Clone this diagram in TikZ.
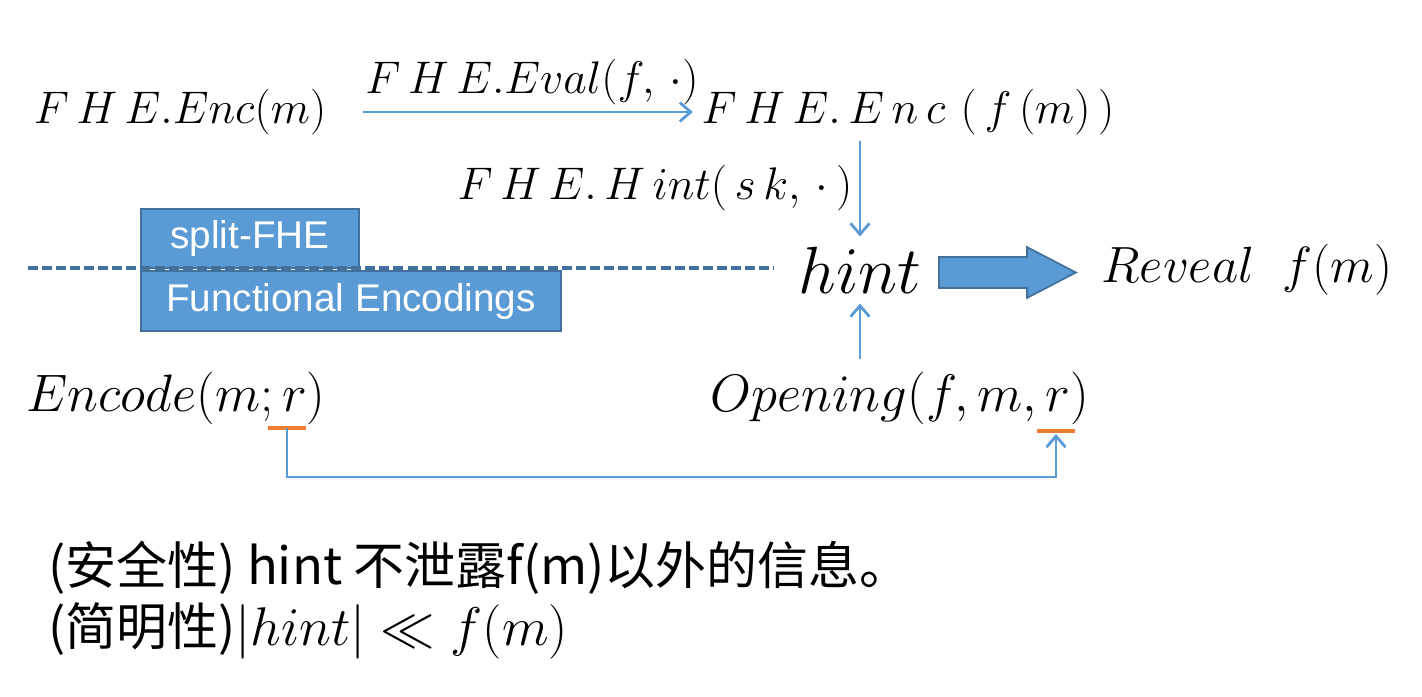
\RequirePackage{fix-cm}
\documentclass[tikz,border=0pt]{standalone}
\usepackage{fontspec}
\setsansfont{Liberation Sans}
\newfontfamily\cjk{Noto Sans CJK SC}
\usepackage{tikz}
\usetikzlibrary{arrows.meta, positioning, calc, shapes.arrows}
\definecolor{fblue}{RGB}{91,155,213}
\definecolor{fline}{RGB}{65,113,156}
\definecolor{rmark}{RGB}{237,125,49}
\newcommand{\gp}{\mkern3mu}

\begin{document}
\begin{tikzpicture}[
  x=0.02cm, y=-0.02cm,
  font=\fontsize{26}{30}\selectfont,
  lbl/.style={inner sep=0pt},
  big/.style={lbl, font=\fontsize{30}{34}\selectfont},
  tag/.style={draw=fline, fill=fblue, line width=1.2pt, text=white, inner sep=0pt,
              anchor=north west, font=\sffamily\fontsize{22}{26}\selectfont},
  flow/.style={draw=fblue, line width=1.6pt, -{Straight Barb[length=2.2mm,width=3.8mm]}},
  divider/.style={draw=fline, line width=2.8pt, dash pattern=on 5.7pt off 2.3pt},
  rtick/.style={draw=rmark, line width=2.4pt},
  note/.style={inner sep=0pt, anchor=base west, font=\cjk\fontsize{29}{34}\selectfont},
]
\useasboundingbox (0,0) rectangle (1422,696);

\node[lbl] (enc) at (180,112) {$F\gp H\gp E.Enc(m)$};
\node[lbl] (encf) at (908,112) {$F\gp H\gp E.\gp E\gp n\gp c\gp\,(\gp f\gp(m)\gp)$};
\node[lbl] (eval) at (532,82) {$F\gp H\gp E.Eval(f,\gp\cdot)$};
\node[lbl] (hintlbl) at (655,188) {$F\gp H\gp E.\gp H\gp int(\gp s\gp k,\gp\cdot\gp)$};
\node[lbl, font=\fontsize{38}{42}\selectfont] (hint) at (860,270) {$hint$};
\node[lbl, font=\fontsize{29}{33}\selectfont] (reveal) at (1247,270) {$Reveal\;\;f(m)$};
\node[big] (encode) at (176,398) {$Encode(m;r)$};
\node[big] (open) at (900,398) {$Opening(f,m,r)$};

\node[tag, minimum width=4.36cm, minimum height=1.18cm] (split) at (140,208) {split-FHE};
\node[tag, minimum width=8.4cm, minimum height=1.2cm] (fenc) at (140,270) {Functional Encodings};

\coordinate (dl) at (28,268);
\draw[divider, shorten >=0.5cm] (dl) -- (hint.west |- dl);

\node[single arrow, fill=fblue, draw=fline, line width=1pt, minimum height=2.74cm,
      minimum width=0.98cm, inner xsep=0pt, inner ysep=0.29cm,
      single arrow head extend=0.2cm, single arrow tip angle=55,
      anchor=tail] (blk) at (938,272.5) {};

\draw[flow, shorten <=0.72cm, shorten >=0.17cm] (enc) -- (encf);
\draw[flow, shorten <=0.12cm, shorten >=0.2cm] (hint |- encf.south) -- (hint.north);
\draw[flow, shorten <=0.25cm, shorten >=0.2cm] (hint |- open.north) -- (hint.south);

\coordinate (ra) at (287,428);
\coordinate (rb) at (1056,431);
\draw[rtick] ($(ra)+(-19,0)$) -- ($(ra)+(19,0)$);
\draw[rtick] ($(rb)+(-19,0)$) -- ($(rb)+(19,0)$);
\draw[flow, shorten >=0.06cm] (ra) -- ++(0,49) -| (rb);

\node[note] (sec) at (48,584) {(安全性) hint 不泄露f(m)以外的信息。};
\node[note] (succ) at (48,645) {(简明性){\fontsize{31}{34}\selectfont$|hint|\ll f(m)$}};
\end{tikzpicture}
\end{document}
